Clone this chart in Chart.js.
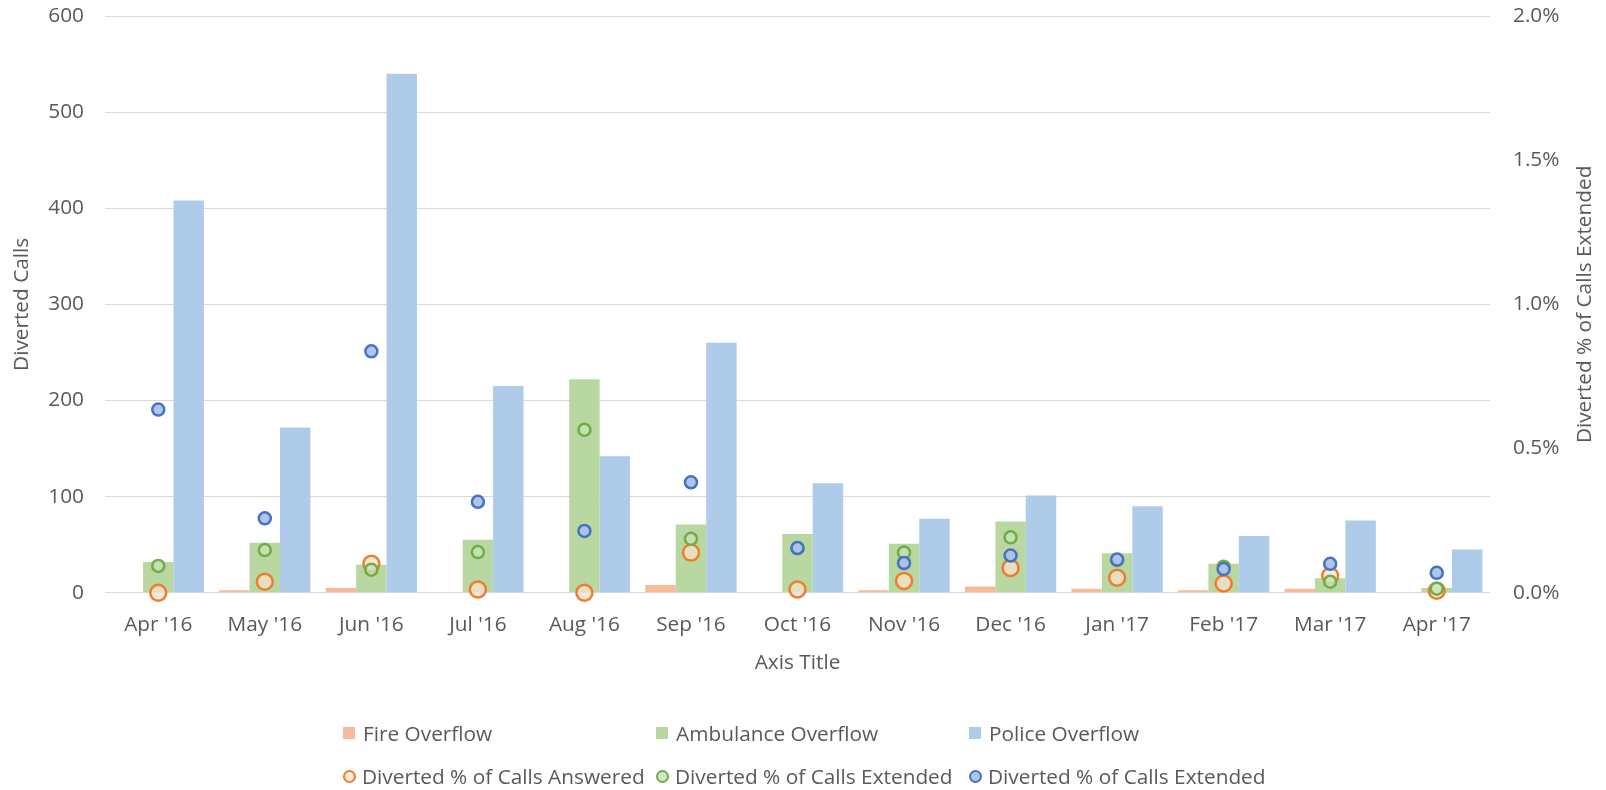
<!DOCTYPE html>
<html>
<head>
<meta charset="utf-8">
<title>Diverted Calls</title>
<script src="https://cdn.jsdelivr.net/npm/chart.js@4.4.1/dist/chart.umd.min.js"></script>
<style>
  html, body { margin: 0; padding: 0; background: #fff; }
  #wrap { position: relative; width: 1606px; height: 790px; font-family: 'Open Sans', sans-serif; }
  #legend {
    position: absolute; left: 343px; top: 718px;
    display: grid; grid-template-columns: 313px 313px 313px; row-gap: 13px;
    color: #595959; font-size: 20.8px;
  }
  .item { display: flex; align-items: center; height: 30px; white-space: nowrap; }
  .box { width: 12px; height: 12px; margin-right: 8px; }
  .dot { width: 9px; height: 9px; border-radius: 50%; border: 2.5px solid; margin-right: 6px; }
</style>
</head>
<body>
<div id="wrap">
  <canvas id="chart" width="1606" height="790"></canvas>
  <div id="legend"></div>
</div>
<script>
// data
const categories = ["Apr '16", "May '16", "Jun '16", "Jul '16", "Aug '16", "Sep '16", "Oct '16",
                    "Nov '16", "Dec '16", "Jan '17", "Feb '17", "Mar '17", "Apr '17"];

const fireOverflow      = [0, 2.5, 5, 0, 0, 8, 0, 2.5, 6.5, 4, 2.5, 4, 0];
const ambulanceOverflow = [32, 52, 29, 55, 222, 71, 61, 51, 74, 41, 30, 15, 5];
const policeOverflow    = [408, 172, 540, 215, 142, 260, 114, 77, 101, 90, 59, 75, 45];

// right axis, in percent
const pctAnswered      = [0.0, 0.038, 0.100, 0.011, 0.0, 0.139, 0.011, 0.041, 0.086, 0.052, 0.032, 0.059, 0.007];
const pctExtendedAmb   = [0.093, 0.148, 0.080, 0.141, 0.565, 0.187, 0.155, 0.139, 0.192, 0.113, 0.090, 0.038, 0.014];
const pctExtendedPol   = [0.635, 0.258, 0.837, 0.315, 0.214, 0.383, 0.155, 0.103, 0.129, 0.115, 0.082, 0.100, 0.069];

const leftTicks = [0, 100, 200, 300, 400, 500, 600];
const rightTicks = [0, 0.5, 1.0, 1.5, 2.0];

const textColor = '#595959';
const fontFamily = "'Open Sans', sans-serif";
const font = { family: fontFamily, size: 20.8 };
const rightTitle = 'Diverted % of Calls Extended';

function barSet(label, data, color) {
    return {
        type: 'bar', label, data,
        backgroundColor: color,
        barPercentage: 1.0,
        categoryPercentage: 0.857,
        yAxisID: 'y',
        order: 10
    };
}

function pointSet(label, data, border, fill, radius, order) {
    return {
        type: 'line', label, data,
        showLine: false,
        yAxisID: 'y2',
        pointStyle: 'circle',
        pointRadius: radius,
        pointBorderWidth: 2.5,
        pointBorderColor: border,
        pointBackgroundColor: fill,
        borderColor: border,
        backgroundColor: fill,
        clip: false,
        order
    };
}

const datasets = [
    barSet('Fire Overflow', fireOverflow, '#F6BC9A'),
    barSet('Ambulance Overflow', ambulanceOverflow, '#B8D7A1'),
    barSet('Police Overflow', policeOverflow, '#AECBEA'),
    pointSet('Diverted % of Calls Answered', pctAnswered, '#ED7D31', 'rgba(248,224,205,0.75)', 8, 3),
    pointSet('Diverted % of Calls Extended', pctExtendedAmb, '#70AD47', 'rgba(200,226,184,0.8)', 6, 2),
    pointSet('Diverted % of Calls Extended', pctExtendedPol, '#4472C4', 'rgba(172,194,232,0.95)', 6, 1)
];

// the right axis title reads bottom to top, like the left one
const rightTitlePlugin = {
    id: 'rightTitle',
    afterDraw(chart) {
        const c = chart.ctx;
        const area = chart.chartArea;
        c.save();
        c.translate(1585, (area.top + area.bottom) / 2);
        c.rotate(-Math.PI / 2);
        c.fillStyle = textColor;
        c.font = `${font.size}px ${fontFamily}`;
        c.textAlign = 'center';
        c.textBaseline = 'middle';
        c.fillText(rightTitle, 0, 0);
        c.restore();
    }
};

const noEndPadding = s => { s.paddingTop = 0; s.paddingBottom = 0; };

const ctx = document.getElementById('chart').getContext('2d');
const chart = new Chart(ctx, {
    data: { labels: categories, datasets },
    plugins: [rightTitlePlugin],
    options: {
        responsive: false,
        animation: false,
        layout: { padding: { top: 16, bottom: 110, left: 0, right: 0 } },
        plugins: { legend: { display: false }, tooltip: { enabled: false } },
        scales: {
            x: {
                grid: { display: false },
                border: { display: false },
                ticks: { color: textColor, font, padding: 12, maxRotation: 0, autoSkip: false },
                title: { display: true, text: 'Axis Title', color: textColor, font, padding: { top: 0, bottom: 4.5 } },
                afterFit: s => { s.height = 87.3; }
            },
            y: {
                position: 'left',
                min: 0, max: 600,
                afterBuildTicks: s => { s.ticks = leftTicks.map(v => ({ value: v })); },
                grid: { color: '#D9D9D9', lineWidth: 1, drawTicks: false },
                border: { display: false },
                ticks: { color: textColor, font, padding: 21 },
                title: { display: true, text: 'Diverted Calls', color: textColor, font, padding: { top: 9.5, bottom: 0 } },
                afterFit: s => { s.width = 105; noEndPadding(s); }
            },
            y2: {
                position: 'right',
                min: 0, max: 2,
                afterBuildTicks: s => { s.ticks = rightTicks.map(v => ({ value: v })); },
                grid: { display: false, drawTicks: false },
                border: { display: false },
                ticks: { color: textColor, font, padding: 23, callback: v => v.toFixed(1) + '%' },
                title: { display: false },
                afterFit: s => { s.width = 116; noEndPadding(s); }
            }
        }
    }
});

// legend in three columns, bars on the first row, markers on the second
const legend = document.getElementById('legend');
chart.data.datasets.forEach(ds => {
    const item = document.createElement('div');
    item.className = 'item';
    const mark = document.createElement('span');
    if (ds.type === 'bar') {
        mark.className = 'box';
        mark.style.background = ds.backgroundColor;
    } else {
        mark.className = 'dot';
        mark.style.borderColor = ds.pointBorderColor;
        mark.style.background = ds.pointBackgroundColor;
    }
    const text = document.createElement('span');
    text.textContent = ds.label;
    item.appendChild(mark);
    item.appendChild(text);
    legend.appendChild(item);
});
</script>
</body>
</html>
